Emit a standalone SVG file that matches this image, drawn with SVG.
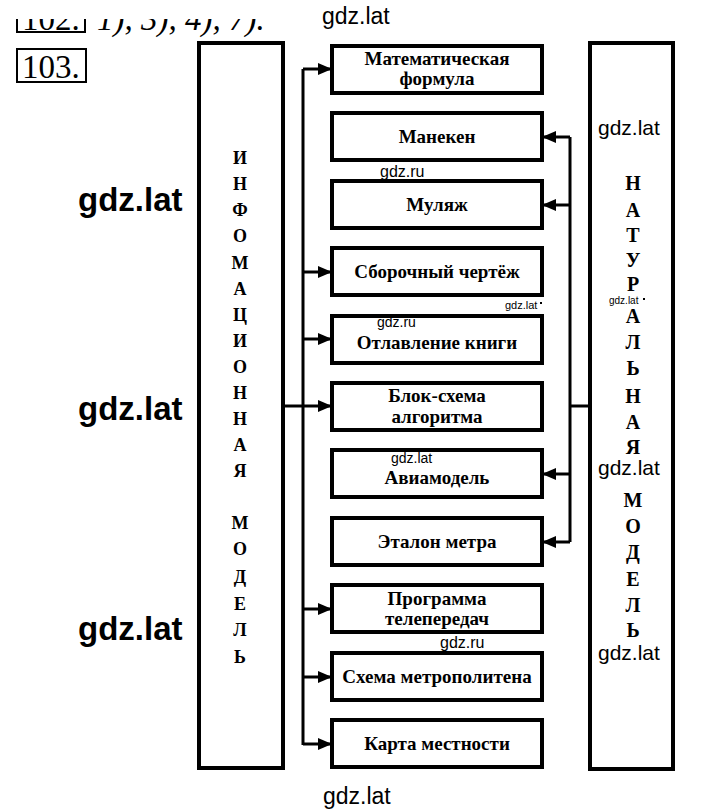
<svg xmlns="http://www.w3.org/2000/svg" width="720" height="812" viewBox="0 0 720 812">
<style>
.box{fill:#fff;stroke:#000;stroke-width:4}
.side{fill:#fff;stroke:#000;stroke-width:4}
.lbl{font-family:"Liberation Serif",serif;font-weight:bold;font-size:19px;text-anchor:middle;fill:#000}
.let{font-family:"Liberation Serif",serif;font-weight:bold;font-size:18px;text-anchor:middle;fill:#000}
.letr{font-family:"Liberation Serif",serif;font-weight:bold;font-size:20px;text-anchor:middle;fill:#000}
.wm{font-family:"Liberation Sans",Arial,sans-serif;fill:#000}
.hd{font-family:"Liberation Serif",serif;font-size:33px;fill:#000}
.ln{fill:none;stroke:#000;stroke-width:3}
</style>
<defs>
<marker id="ah" markerUnits="userSpaceOnUse" markerWidth="14" markerHeight="12" refX="13" refY="6" orient="auto">
<path d="M0,0 L14,6 L0,12 Z" fill="#000"/>
</marker>
<clipPath id="hclip"><rect x="0" y="19" width="300" height="20"/></clipPath>
</defs>
<rect width="720" height="812" fill="#fff"/>

<g id="header">
<g clip-path="url(#hclip)">
<path d="M17,0 V32 H85 V0" fill="none" stroke="#000" stroke-width="2"/>
<text class="hd" x="22" y="30">102.</text>
<text class="hd" x="97" y="30" font-style="italic">1), 3), 4), 7).</text>
</g>
<rect x="17" y="49" width="69" height="33" fill="none" stroke="#000" stroke-width="2"/>
<text class="hd" x="22" y="78">103.</text>
</g>

<g id="info-model">
<rect class="side" x="199" y="43" width="84" height="725"/>
<text class="let" x="240" y="164">И</text>
<text class="let" x="240" y="190">Н</text>
<text class="let" x="240" y="216">Ф</text>
<text class="let" x="240" y="242">О</text>
<text class="let" x="240" y="269">М</text>
<text class="let" x="240" y="295">А</text>
<text class="let" x="240" y="321">Ц</text>
<text class="let" x="240" y="347">И</text>
<text class="let" x="240" y="373">О</text>
<text class="let" x="240" y="399">Н</text>
<text class="let" x="240" y="425">Н</text>
<text class="let" x="240" y="451">А</text>
<text class="let" x="240" y="477">Я</text>
<text class="let" x="240" y="529">М</text>
<text class="let" x="240" y="555">О</text>
<text class="let" x="240" y="583">Д</text>
<text class="let" x="240" y="610">Е</text>
<text class="let" x="240" y="636">Л</text>
<text class="let" x="240" y="663">Ь</text>
</g>

<g id="nat-model">
<rect class="side" x="590" y="43" width="83" height="726"/>
<text class="letr" x="633" y="190">Н</text>
<text class="letr" x="633" y="217">А</text>
<text class="letr" x="633" y="242">Т</text>
<text class="letr" x="633" y="267">У</text>
<text class="letr" x="633" y="291">Р</text>
<text class="letr" x="633" y="323">А</text>
<text class="letr" x="633" y="349">Л</text>
<text class="letr" x="633" y="375">Ь</text>
<text class="letr" x="633" y="403">Н</text>
<text class="letr" x="633" y="429">А</text>
<text class="letr" x="633" y="454">Я</text>
<text class="letr" x="633" y="507">М</text>
<text class="letr" x="633" y="533">О</text>
<text class="letr" x="633" y="559">Д</text>
<text class="letr" x="633" y="586">Е</text>
<text class="letr" x="633" y="612">Л</text>
<text class="letr" x="633" y="637">Ь</text>
</g>

<g id="connectors">
<path class="ln" d="M283,406 H303"/>
<path class="ln" d="M303,69 V745"/>
<path class="ln" d="M303,69 H331" marker-end="url(#ah)"/>
<path class="ln" d="M303,272 H331" marker-end="url(#ah)"/>
<path class="ln" d="M303,339 H331" marker-end="url(#ah)"/>
<path class="ln" d="M303,406 H331" marker-end="url(#ah)"/>
<path class="ln" d="M303,609 H331" marker-end="url(#ah)"/>
<path class="ln" d="M303,677 H331" marker-end="url(#ah)"/>
<path class="ln" d="M303,744 H331" marker-end="url(#ah)"/>
<path class="ln" d="M590,406 H570"/>
<path class="ln" d="M570,137 V542"/>
<path class="ln" d="M570,137 H543" marker-end="url(#ah)"/>
<path class="ln" d="M570,205 H543" marker-end="url(#ah)"/>
<path class="ln" d="M570,474 H543" marker-end="url(#ah)"/>
<path class="ln" d="M570,542 H543" marker-end="url(#ah)"/>
</g>

<g id="n1"><rect class="box" x="332" y="46" width="210" height="47"/><text class="lbl" x="437" y="65">Математическая</text><text class="lbl" x="437" y="85">формула</text></g>
<g id="n2"><rect class="box" x="332" y="113" width="210" height="47"/><text class="lbl" x="437" y="143">Манекен</text></g>
<g id="n3"><rect class="box" x="332" y="181" width="210" height="47"/><text class="lbl" x="437" y="211">Муляж</text></g>
<g id="n4"><rect class="box" x="332" y="248" width="210" height="47"/><text class="lbl" x="437" y="278">Сборочный чертёж</text></g>
<g id="n5"><rect class="box" x="332" y="316" width="210" height="47"/><text class="lbl" x="437" y="349">Отлавление книги</text></g>
<g id="n6"><rect class="box" x="332" y="383" width="210" height="47"/><text class="lbl" x="437" y="402">Блок-схема</text><text class="lbl" x="437" y="423">алгоритма</text></g>
<g id="n7"><rect class="box" x="332" y="450" width="210" height="47"/><text class="lbl" x="437" y="484">Авиамодель</text></g>
<g id="n8"><rect class="box" x="332" y="518" width="210" height="47"/><text class="lbl" x="437" y="548">Эталон метра</text></g>
<g id="n9"><rect class="box" x="332" y="585" width="210" height="47"/><text class="lbl" x="437" y="605">Программа</text><text class="lbl" x="437" y="625">телепередач</text></g>
<g id="n10"><rect class="box" x="332" y="653" width="210" height="47"/><text class="lbl" x="437" y="683">Схема метрополитена</text></g>
<g id="n11"><rect class="box" x="332" y="720" width="210" height="47"/><text class="lbl" x="437" y="750">Карта местности</text></g>

<g id="watermarks">
<text class="wm" x="322" y="24" font-size="23">gdz.lat</text>
<text class="wm" x="78" y="211" font-size="33" font-weight="bold">gdz.lat</text>
<text class="wm" x="78" y="420" font-size="33" font-weight="bold">gdz.lat</text>
<text class="wm" x="78" y="640" font-size="33" font-weight="bold">gdz.lat</text>
<text class="wm" x="380" y="177" font-size="16">gdz.ru</text>
<text class="wm" x="598" y="135" font-size="21">gdz.lat</text>
<text class="wm" x="505" y="309" font-size="11">gdz.lat</text>
<rect x="540" y="302" width="2" height="2" fill="#000"/>
<text class="wm" x="609" y="304" font-size="10">gdz.lat</text>
<rect x="643" y="298" width="2" height="2" fill="#000"/>
<text class="wm" x="377" y="327" font-size="14">gdz.ru</text>
<text class="wm" x="391" y="463" font-size="14">gdz.lat</text>
<text class="wm" x="598" y="475" font-size="21">gdz.lat</text>
<text class="wm" x="440" y="648" font-size="16">gdz.ru</text>
<text class="wm" x="598" y="660" font-size="21">gdz.lat</text>
<text class="wm" x="323" y="804" font-size="23">gdz.lat</text>
</g>
</svg>
